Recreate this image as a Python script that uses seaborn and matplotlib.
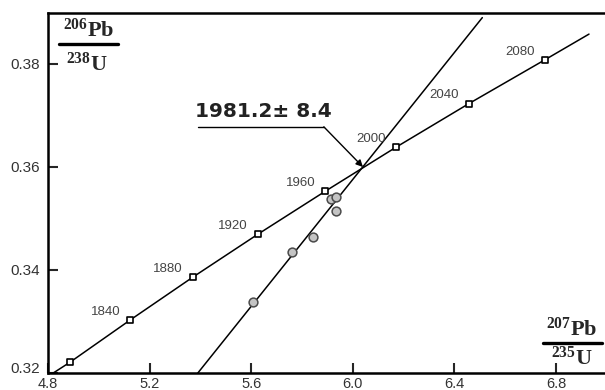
import numpy as np
import pandas as pd
import matplotlib.pyplot as plt
from matplotlib.lines import Line2D
import seaborn as sns

# concordia ages and their ratios
ages = [1800, 1840, 1880, 1920, 1960, 2000, 2040, 2080]
conc_x = [4.887, 5.124, 5.370, 5.625, 5.892, 6.169, 6.457, 6.756]
conc_y = [0.3221, 0.3303, 0.3386, 0.3469, 0.3553, 0.3638, 0.3723, 0.3808]
age_labels = ['', '1840', '1880', '1920', '1960', '2000', '2040', '2080']

# concordia curve as drawn (runs past the first and last age marks)
curve_x = [4.78, 4.887, 5.124, 5.370, 5.625, 5.892, 6.169, 6.457, 6.756, 6.93]
curve_y = [0.3187, 0.3221, 0.3303, 0.3386, 0.3469, 0.3553, 0.3638, 0.3723, 0.3808, 0.3858]

# discordia line end points
disc_x = [5.39, 6.51]
disc_y = [0.3200, 0.3890]

# zircon analyses
samp_x = [5.606, 5.761, 5.844, 5.916, 5.932, 5.932]
samp_y = [0.3337, 0.3434, 0.3465, 0.3537, 0.3542, 0.3515]

intercept = (6.04, 0.3600)
age_text = '1981.2\u00b1 8.4'

sns.set_style('ticks')
plt.rcParams['font.family'] = ['Liberation Sans', 'DejaVu Sans']
plt.rcParams['mathtext.fontset'] = 'custom'
plt.rcParams['mathtext.rm'] = 'Liberation Serif'
plt.rcParams['mathtext.bf'] = 'Liberation Serif:bold'

fig = plt.figure(figsize=(6.05, 3.9), dpi=100)
ax = fig.add_axes([0.0793, 0.0436, 0.9207, 0.9231])

curve = pd.DataFrame({'x': curve_x, 'y': curve_y})
sns.lineplot(data=curve, x='x', y='y', sort=False, color='black', lw=1.1, ax=ax)
disc = pd.DataFrame({'x': disc_x, 'y': disc_y})
sns.lineplot(data=disc, x='x', y='y', sort=False, color='black', lw=1.1, ax=ax)

conc = pd.DataFrame({'x': conc_x, 'y': conc_y, 'age': ages})
sns.scatterplot(data=conc, x='x', y='y', marker='s', s=22, facecolor='white',
                edgecolor='black', linewidth=1.2, zorder=4, ax=ax)
samp = pd.DataFrame({'x': samp_x, 'y': samp_y})
sns.scatterplot(data=samp, x='x', y='y', marker='o', s=40, facecolor='#c4c4c4',
                edgecolor='#4a4a4a', linewidth=1.1, zorder=4, ax=ax)

for xv, yv, lab in zip(conc_x, conc_y, age_labels):
    if lab:
        ax.annotate(lab, (xv, yv), xytext=(-7, 6), textcoords='offset points',
                    ha='right', va='center', fontsize=9.5, color='#444444')

# intercept age with leader line
ax.annotate('', xy=intercept, xytext=(5.886, 0.3678),
            arrowprops=dict(arrowstyle='-|>', color='black', lw=1.0,
                            mutation_scale=10, shrinkA=0, shrinkB=0))
ax.add_line(Line2D([5.39, 5.886], [0.3678, 0.3678], color='black', lw=1.0))
ax.text(5.38, 0.3689, age_text, fontsize=14.5, fontweight='bold',
        family='DejaVu Sans', color='#222222', ha='left', va='bottom')

ax.set_xlim(4.8, 6.993)
ax.set_ylim(0.32, 0.3899)
ax.set_xticks([4.8, 5.2, 5.6, 6.0, 6.4, 6.8])
ax.set_xticklabels(['4.8', '5.2', '5.6', '6.0', '6.4', '6.8'])
ax.set_yticks([0.32, 0.34, 0.36, 0.38])
ax.set_yticklabels(['0.32', '0.34', '0.36', '0.38'])
ax.tick_params(direction='in', length=7, width=1.5, labelcolor='#333333')
ax.tick_params(axis='x', labelsize=10.5, pad=3)
ax.tick_params(axis='y', labelsize=11, pad=5.5)
ax.get_yticklabels()[0].set_va('baseline')
ax.set_xlabel('')
ax.set_ylabel('')

for side in ['left', 'top', 'bottom']:
    ax.spines[side].set_linewidth(1.8)
    ax.spines[side].set_color('black')
ax.spines['right'].set_visible(False)

# axis labels drawn as stacked fractions
ax.text(0.072, 0.985, r'$\mathbf{^{206}Pb}$', transform=ax.transAxes,
        fontsize=16, ha='center', va='top')
ax.add_line(Line2D([0.02, 0.126], [0.915, 0.915], transform=ax.transAxes,
                   color='black', lw=2.4, clip_on=False))
ax.text(0.07, 0.89, r'$\mathbf{^{238}U}$', transform=ax.transAxes,
        fontsize=16, ha='center', va='top')

ax.text(0.94, 0.09, r'$\mathbf{^{207}Pb}$', transform=ax.transAxes,
        fontsize=16, ha='center', va='bottom')
ax.add_line(Line2D([0.888, 0.995], [0.084, 0.084], transform=ax.transAxes,
                   color='black', lw=2.4, clip_on=False))
ax.text(0.94, 0.074, r'$\mathbf{^{235}U}$', transform=ax.transAxes,
        fontsize=16, ha='center', va='top')

fig.savefig('out.png', dpi=100)
